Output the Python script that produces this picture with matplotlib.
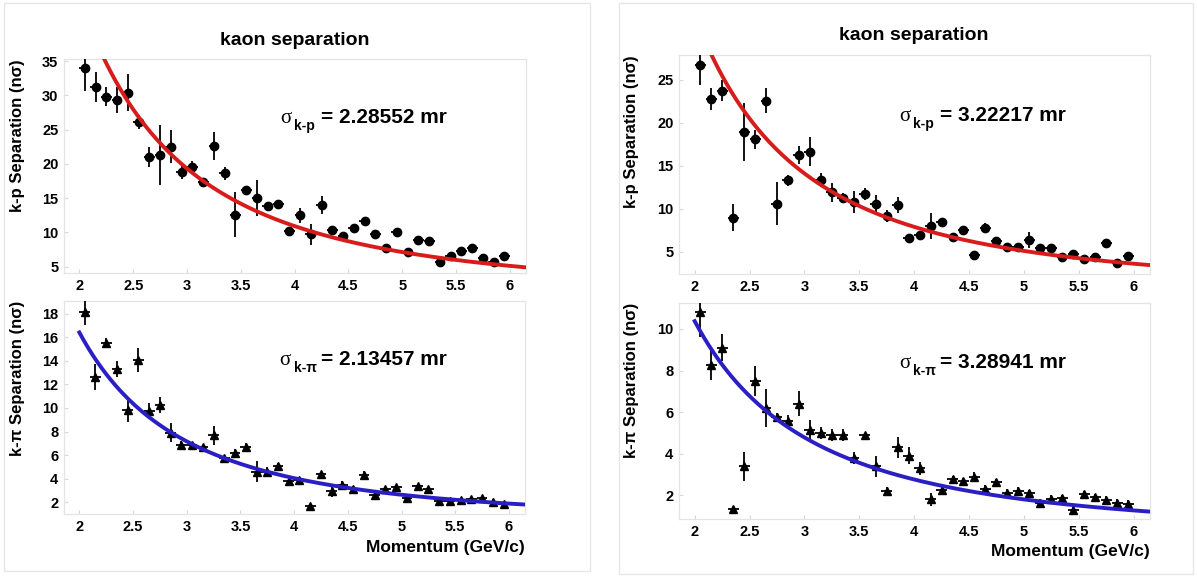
import numpy as np
import matplotlib
matplotlib.use("Agg")
import matplotlib.pyplot as plt
from matplotlib.patches import Rectangle

plt.rcParams['font.family'] = ['Liberation Sans', 'DejaVu Sans']
plt.rcParams['font.weight'] = 'bold'

# ------------------------------------------------------------
# bin centres (GeV/c)
# ------------------------------------------------------------
momentum = [2.05, 2.15, 2.25, 2.35, 2.45, 2.55, 2.65, 2.75, 2.85, 2.95,
            3.05, 3.15, 3.25, 3.35, 3.45, 3.55, 3.65, 3.75, 3.85, 3.95,
            4.05, 4.15, 4.25, 4.35, 4.45, 4.55, 4.65, 4.75, 4.85, 4.95,
            5.05, 5.15, 5.25, 5.35, 5.45, 5.55, 5.65, 5.75, 5.85, 5.95]
bin_half = 0.05

# left: sigma = 2.28552 / 2.13457 mr
kp_sep_a = [34.0, 31.2, 29.8, 29.3, 30.4, 26.1, 21.0, 21.3, 22.5, 18.8,
            19.5, 17.4, 22.6, 18.6, 12.6, 16.2, 15.0, 13.9, 14.1, 10.2,
            12.5, 9.7, 14.0, 10.3, 9.5, 10.6, 11.6, 9.7, 7.7, 10.0,
            7.2, 8.9, 8.8, 5.7, 6.6, 7.3, 7.8, 6.2, 5.7, 6.5]
kp_err_a = [3.4, 2.2, 1.4, 1.9, 2.7, 1.0, 1.4, 4.4, 2.4, 1.0,
            0.9, 0.6, 2.1, 1.0, 3.3, 0.3, 2.6, 0.5, 0.3, 0.3,
            1.1, 1.6, 1.3, 0.3, 0.6, 0.4, 0.7, 0.3, 0.3, 0.6,
            0.3, 0.4, 0.6, 0.5, 0.4, 0.4, 0.4, 0.3, 0.3, 0.3]
kpi_sep_a = [18.1, 12.65, 15.5, 13.3, 9.8, 14.05, 9.75, 10.25, 7.9, 6.9,
             6.85, 6.7, 7.7, 5.75, 6.2, 6.7, 4.6, 4.6, 5.1, 3.8,
             3.9, 1.7, 4.4, 3.0, 3.5, 3.15, 4.35, 2.6, 3.1, 3.3,
             2.35, 3.4, 3.1, 2.15, 2.1, 2.2, 2.3, 2.35, 2.05, 1.9]
kpi_err_a = [1.1, 1.1, 0.4, 0.7, 1.0, 1.0, 0.7, 0.7, 0.8, 0.3,
             0.2, 0.2, 0.8, 0.2, 0.3, 0.3, 0.9, 0.4, 0.2, 0.2,
             0.2, 0.2, 0.2, 0.5, 0.3, 0.2, 0.3, 0.2, 0.2, 0.2,
             0.2, 0.2, 0.2, 0.2, 0.2, 0.2, 0.2, 0.2, 0.2, 0.2]

# right: sigma = 3.22217 / 3.28941 mr
kp_sep_b = [26.75, 22.75, 23.75, 8.95, 18.9, 18.1, 22.6, 10.6, 13.3, 16.25,
            16.65, 13.35, 11.9, 11.3, 10.75, 11.7, 10.6, 9.1, 10.45, 6.6,
            6.9, 8.0, 8.4, 6.75, 7.5, 4.6, 7.8, 6.3, 5.5, 5.5,
            6.35, 5.4, 5.4, 4.4, 4.7, 4.2, 4.4, 6.05, 3.65, 4.5]
kp_err_b = [2.3, 1.25, 1.2, 1.6, 3.4, 1.1, 1.5, 2.5, 0.6, 1.0,
            1.7, 0.8, 1.1, 0.5, 1.3, 0.7, 1.0, 0.7, 0.9, 0.3,
            0.4, 1.5, 0.4, 0.3, 0.3, 0.2, 0.5, 0.4, 0.4, 0.3,
            0.9, 0.3, 0.5, 0.3, 0.3, 0.2, 0.4, 0.3, 0.2, 0.3]
kpi_sep_b = [10.8, 8.25, 9.1, 1.35, 3.4, 7.5, 6.2, 5.77, 5.55, 6.4,
             5.15, 5.0, 4.9, 4.9, 3.8, 4.9, 3.4, 2.2, 4.3, 3.9,
             3.3, 1.8, 2.25, 2.8, 2.7, 2.9, 2.3, 2.65, 2.1, 2.2,
             2.1, 1.65, 1.8, 1.85, 1.3, 2.05, 1.9, 1.75, 1.65, 1.6]
kpi_err_b = [1.2, 0.7, 0.65, 0.1, 0.7, 0.7, 0.9, 0.2, 0.3, 0.6,
             0.45, 0.3, 0.3, 0.3, 0.3, 0.1, 0.5, 0.2, 0.5, 0.4,
             0.3, 0.3, 0.2, 0.15, 0.15, 0.2, 0.2, 0.15, 0.2, 0.2,
             0.15, 0.15, 0.2, 0.15, 0.2, 0.15, 0.15, 0.2, 0.15, 0.15]

# fit curves: n_sigma = a / p**b + c
fit_kp_a = (186.0, 2.1, 0.8)
fit_kpi_a = (69.0, 2.1, 0.3)
fit_kp_b = (137.7, 2.1, 0.4)
fit_kpi_b = (39.0, 1.91, 0.0)
fit_range = (2.0, 6.15)

W, H = 1197, 576
fig = plt.figure(figsize=(W / 100, H / 100), dpi=100)


def px_box(l, t, r, b):
    return [l / W, 1 - b / H, (r - l) / W, (b - t) / H]


# light frames around the two pictures
for l, t, r, b in [(4, 3, 590, 571), (619, 3, 1193, 574)]:
    fig.patches.append(Rectangle((l / W, 1 - b / H), (r - l) / W, (b - t) / H,
                                 transform=fig.transFigure, fill=False,
                                 ec='#e6e6e6', lw=1.0))


def style_axes(ax, ylim, yticks):
    ax.set_xlim(1.857, 6.15)
    ax.set_ylim(*ylim)
    ax.set_xticks([2, 2.5, 3, 3.5, 4, 4.5, 5, 5.5, 6])
    ax.set_xticklabels(['2', '2.5', '3', '3.5', '4', '4.5', '5', '5.5', '6'])
    ax.set_yticks(yticks)
    for s in ax.spines.values():
        s.set_color('#e4e4e4')
        s.set_linewidth(0.9)
    ax.tick_params(direction='in', length=3, color='#d8d8d8',
                   labelsize=10.5, pad=4)
    for lab in ax.get_xticklabels() + ax.get_yticklabels():
        lab.set_fontweight('bold')


def sigma_text(ax, sub, value):
    base = (0.468, 0.70)
    ax.annotate('σ', xy=base, xycoords='axes fraction', fontsize=15,
                family=['Liberation Serif', 'DejaVu Serif'], fontweight='normal',
                ha='left', va='baseline')
    ax.annotate(sub, xy=base, xycoords='axes fraction', xytext=(14, -7),
                textcoords='offset pixels', fontsize=10, fontweight='bold',
                ha='left', va='baseline')
    ax.annotate('= ' + value, xy=base, xycoords='axes fraction', xytext=(41, 0),
                textcoords='offset pixels', fontsize=15, fontweight='bold',
                ha='left', va='baseline')


def draw_panel(ax, sep, err, marker, msize, fit, color, ylabel):
    ax.errorbar(momentum, sep, yerr=err, xerr=bin_half, fmt=marker, ms=msize,
                color='black', ecolor='black', elinewidth=1.3, capsize=0,
                zorder=3, clip_on=True)
    p = np.linspace(fit_range[0], fit_range[1], 300)
    a, b, c = fit
    ax.plot(p, a / p ** b + c, color=color, lw=2.8, zorder=4)
    ax.text(-0.100, 1.0, ylabel, transform=ax.transAxes, rotation=90,
            ha='center', va='top', fontsize=12, fontweight='bold')


# left picture
ax1 = fig.add_axes(px_box(64, 59, 526, 273))
style_axes(ax1, (4.08, 35.3), [5, 10, 15, 20, 25, 30, 35])
draw_panel(ax1, kp_sep_a, kp_err_a, 'o', 6, fit_kp_a, '#d81c1c',
           'k-p Separation (nσ)')
sigma_text(ax1, 'k-p', '2.28552 mr')

ax2 = fig.add_axes(px_box(64, 301, 525, 514))
style_axes(ax2, (1.02, 19.06), [2, 4, 6, 8, 10, 12, 14, 16, 18])
draw_panel(ax2, kpi_sep_a, kpi_err_a, '^', 6, fit_kpi_a, '#2a1fc4',
           'k-π Separation (nσ)')
sigma_text(ax2, 'k-π', '2.13457 mr')
ax2.text(1.0, -0.178, 'Momentum (GeV/c)', transform=ax2.transAxes,
         ha='right', va='baseline', fontsize=12.5, fontweight='bold')

# right picture
ax3 = fig.add_axes(px_box(679, 55, 1150, 274))
style_axes(ax3, (2.4, 27.9), [5, 10, 15, 20, 25])
draw_panel(ax3, kp_sep_b, kp_err_b, 'o', 6, fit_kp_b, '#d81c1c',
           'k-p Separation (nσ)')
sigma_text(ax3, 'k-p', '3.22217 mr')

ax4 = fig.add_axes(px_box(679, 303, 1150, 519))
style_axes(ax4, (0.86, 11.25), [2, 4, 6, 8, 10])
draw_panel(ax4, kpi_sep_b, kpi_err_b, '^', 6, fit_kpi_b, '#2a1fc4',
           'k-π Separation (nσ)')
sigma_text(ax4, 'k-π', '3.28941 mr')
ax4.text(1.0, -0.17, 'Momentum (GeV/c)', transform=ax4.transAxes,
         ha='right', va='baseline', fontsize=12.5, fontweight='bold')

fig.text(295 / W, 1 - 45 / H, 'kaon separation', ha='center', va='baseline',
         fontsize=14, fontweight='bold')
fig.text(914 / W, 1 - 40 / H, 'kaon separation', ha='center', va='baseline',
         fontsize=14, fontweight='bold')

fig.savefig('out.png', dpi=100, facecolor='white')
